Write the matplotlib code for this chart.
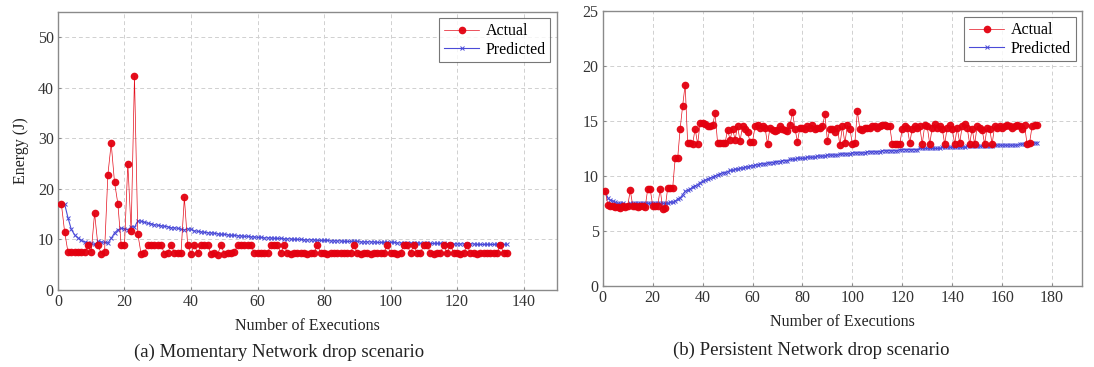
import matplotlib
matplotlib.use("Agg")
import matplotlib.pyplot as plt

plt.rcParams['font.family'] = ['Liberation Serif', 'DejaVu Serif']

# ---------------- Data: (a) Momentary network drop ----------------
a_actual = [17.1, 11.5, 7.5, 7.5, 7.5, 7.5, 7.5, 7.5, 8.8, 7.5,
            15.2, 8.9, 7.2, 7.5, 22.8, 29.0, 21.3, 17.1, 8.9, 8.9,
            25.0, 11.6, 42.4, 11.1, 7.1, 7.4, 8.8, 8.8, 8.8, 8.9,
            8.9, 7.2, 7.4, 8.9, 7.4, 7.4, 7.4, 18.3, 8.9, 7.2,
            8.9, 7.3, 8.8, 8.9, 8.9, 7.2, 7.4, 7.0, 8.9, 7.2,
            7.3, 7.3, 7.5, 8.8, 8.9, 8.9, 8.9, 8.9, 7.4, 7.3,
            7.3, 7.3, 7.3, 8.9, 8.9, 8.9, 7.3, 8.9, 7.3, 7.2,
            7.3, 7.3, 7.4, 7.3, 7.2, 7.3, 7.3, 8.9, 7.3, 7.3,
            7.2, 7.3, 7.3, 7.4, 7.3, 7.3, 7.3, 7.4, 8.9, 7.3,
            7.2, 7.3, 7.3, 7.2, 7.3, 7.3, 7.4, 7.3, 8.9, 7.3,
            7.3, 7.2, 7.3, 8.9, 8.9, 7.3, 8.9, 7.3, 7.3, 8.9,
            8.9, 7.3, 7.2, 7.3, 7.3, 8.9, 7.3, 8.9, 7.3, 7.3,
            7.2, 7.3, 8.9, 7.3, 7.3, 7.2, 7.3, 7.3, 7.3, 7.4,
            7.3, 7.3, 8.9, 7.3, 7.3]
a_pred = [17.0, 17.0, 14.3, 12.0, 10.9, 10.3, 9.8, 9.5, 9.3, 9.2,
          9.0, 9.6, 9.5, 9.4, 9.3, 10.2, 11.3, 11.9, 12.2, 12.1,
          11.9, 12.5, 12.4, 13.7, 13.6, 13.4, 13.2, 13.1, 12.9, 12.8,
          12.7, 12.6, 12.5, 12.3, 12.3, 12.2, 12.0, 11.9, 12.1, 12.0,
          11.7, 11.6, 11.5, 11.4, 11.3, 11.3, 11.2, 11.1, 11.0, 11.0,
          10.9, 10.8, 10.8, 10.7, 10.7, 10.6, 10.6, 10.5, 10.5, 10.4,
          10.4, 10.3, 10.3, 10.3, 10.2, 10.2, 10.2, 10.1, 10.1, 10.1,
          10.0, 10.0, 10.0, 9.9, 9.9, 9.9, 9.9, 9.8, 9.8, 9.8,
          9.8, 9.7, 9.7, 9.7, 9.7, 9.6, 9.6, 9.6, 9.6, 9.6,
          9.5, 9.5, 9.5, 9.5, 9.5, 9.4, 9.4, 9.4, 9.4, 9.4,
          9.4, 9.3, 9.3, 9.3, 9.3, 9.3, 9.3, 9.3, 9.2, 9.2,
          9.2, 9.2, 9.2, 9.2, 9.2, 9.2, 9.1, 9.1, 9.1, 9.1,
          9.1, 9.1, 9.1, 9.1, 9.1, 9.0, 9.0, 9.0, 9.0, 9.0,
          9.0, 9.0, 9.0, 9.0, 9.0]

# ---------------- Data: (b) Persistent network drop ----------------
b_actual = [8.6, 7.4, 7.3, 7.3, 7.2, 7.2, 7.1, 7.3, 7.2, 7.3,
            8.7, 7.3, 7.3, 7.2, 7.3, 7.3, 7.2, 8.8, 8.8, 7.3,
            7.3, 7.3, 8.8, 7.0, 7.1, 8.9, 8.9, 8.9, 11.6, 11.6,
            14.3, 16.4, 18.3, 13.0, 13.0, 12.9, 14.3, 12.9, 14.8, 14.8,
            14.7, 14.5, 14.5, 14.6, 15.7, 13.0, 13.0, 13.0, 13.0, 14.2,
            13.3, 14.3, 13.3, 14.5, 13.2, 14.5, 14.3, 14.0, 13.1, 13.1,
            14.5, 14.6, 14.4, 14.5, 14.4, 12.9, 14.4, 14.2, 14.1, 14.2,
            14.5, 14.3, 14.2, 14.1, 14.6, 15.8, 14.3, 13.1, 14.4, 14.4,
            14.3, 14.5, 14.4, 14.6, 14.3, 14.4, 14.4, 14.5, 15.6, 13.2,
            14.3, 14.3, 14.0, 14.4, 12.8, 14.5, 13.0, 14.6, 14.3, 12.9,
            13.0, 15.9, 14.3, 14.2, 14.4, 14.4, 14.4, 14.5, 14.5, 14.4,
            14.5, 14.6, 14.6, 14.5, 14.5, 12.9, 12.9, 12.9, 12.9, 14.3,
            14.5, 14.4, 13.0, 14.3, 14.5, 14.4, 14.5, 12.9, 14.6, 14.5,
            12.9, 14.4, 14.7, 14.4, 14.5, 14.3, 12.9, 14.4, 14.6, 14.3,
            12.9, 14.4, 13.0, 14.5, 14.7, 14.4, 12.9, 14.3, 12.9, 14.5,
            14.4, 14.2, 12.9, 14.4, 14.3, 12.9, 14.5, 14.4, 14.5, 14.4,
            14.5, 14.6, 14.5, 14.4, 14.5, 14.6, 14.5, 14.3, 14.6, 12.9,
            13.0, 14.5, 14.6, 14.6]
b_pred = [8.6, 8.0, 7.8, 7.7, 7.6, 7.5, 7.5, 7.5, 7.4, 7.4,
          7.5, 7.5, 7.5, 7.5, 7.5, 7.5, 7.5, 7.5, 7.5, 7.5,
          7.5, 7.5, 7.5, 7.5, 7.5, 7.5, 7.6, 7.6, 7.7, 7.9,
          8.0, 8.3, 8.6, 8.7, 8.8, 9.0, 9.1, 9.2, 9.4, 9.5,
          9.6, 9.7, 9.8, 9.9, 10.0, 10.1, 10.2, 10.3, 10.3, 10.4,
          10.5, 10.5, 10.6, 10.6, 10.7, 10.7, 10.8, 10.8, 10.9, 10.9,
          11.0, 11.0, 11.1, 11.1, 11.1, 11.2, 11.2, 11.2, 11.3, 11.3,
          11.3, 11.4, 11.4, 11.4, 11.5, 11.5, 11.5, 11.6, 11.6, 11.6,
          11.6, 11.7, 11.7, 11.7, 11.7, 11.8, 11.8, 11.8, 11.8, 11.9,
          11.9, 11.9, 11.9, 11.9, 12.0, 12.0, 12.0, 12.0, 12.0, 12.1,
          12.1, 12.1, 12.1, 12.1, 12.1, 12.2, 12.2, 12.2, 12.2, 12.2,
          12.2, 12.3, 12.3, 12.3, 12.3, 12.3, 12.3, 12.3, 12.4, 12.4,
          12.4, 12.4, 12.4, 12.4, 12.4, 12.4, 12.5, 12.5, 12.5, 12.5,
          12.5, 12.5, 12.5, 12.5, 12.5, 12.6, 12.6, 12.6, 12.6, 12.6,
          12.6, 12.6, 12.6, 12.6, 12.6, 12.7, 12.7, 12.7, 12.7, 12.7,
          12.7, 12.7, 12.7, 12.7, 12.7, 12.7, 12.8, 12.8, 12.8, 12.8,
          12.8, 12.8, 12.8, 12.8, 12.8, 12.8, 12.9, 12.9, 12.9, 12.9,
          13.0, 13.0, 13.0, 13.0]

a_xticks = [0, 20, 40, 60, 80, 100, 120, 140]
a_yticks = [0, 10, 20, 30, 40, 50]
b_xticks = [0, 20, 40, 60, 80, 100, 120, 140, 160, 180]
b_yticks = [0, 5, 10, 15, 20, 25]

RED = '#e3000f'
BLUE = '#4b4bd8'

fig = plt.figure(figsize=(10.94, 3.67), dpi=100)
ax1 = fig.add_axes([0.053, 0.210, 0.456, 0.757])
ax2 = fig.add_axes([0.551, 0.221, 0.438, 0.749])


def style(ax, xlim, ylim, xt, yt):
    ax.set_xlim(*xlim)
    ax.set_ylim(*ylim)
    ax.set_xticks(xt)
    ax.set_yticks(yt)
    ax.grid(True, color='#d0d0d0', linestyle=(0, (4, 3)), linewidth=0.7)
    ax.set_axisbelow(True)
    for s in ax.spines.values():
        s.set_color('#8a8a8a')
        s.set_linewidth(1.0)
    ax.tick_params(direction='in', length=2.5, color='#8a8a8a', labelsize=11.5,
                   labelcolor='#333333', pad=3)


def draw(ax, actual, pred):
    xa = list(range(1, len(actual) + 1))
    xp = list(range(1, len(pred) + 1))
    ax.plot(xp, pred, color=BLUE, linewidth=0.8, marker='x', markersize=3,
            markeredgewidth=0.7, label='Predicted', zorder=3)
    ax.plot(xa, actual, color=RED, linewidth=0.5, marker='o', markersize=5.5,
            markeredgewidth=0, alpha=0.95, label='Actual', zorder=4)
    h, l = ax.get_legend_handles_labels()
    leg = ax.legend(h[::-1], l[::-1], loc='upper right', fontsize=11.5,
                    frameon=True, fancybox=False, borderaxespad=0.4,
                    handlelength=2.2, handletextpad=0.4, borderpad=0.3,
                    labelspacing=0.15)
    leg.get_frame().set_edgecolor('#555555')
    leg.get_frame().set_linewidth(0.8)


draw(ax1, a_actual, a_pred)
style(ax1, (0, 150), (0, 55), a_xticks, a_yticks)
ax1.set_ylabel('Energy (J)', fontsize=11.5, color='#222222', labelpad=6)
ax1.set_xlabel('Number of Executions', fontsize=11.5, color='#222222', labelpad=6)

draw(ax2, b_actual, b_pred)
style(ax2, (0, 192), (0, 25), b_xticks, b_yticks)
ax2.set_xlabel('Number of Executions', fontsize=11.5, color='#222222', labelpad=6)

fig.text(0.255, 0.04, '(a) Momentary Network drop scenario', ha='center',
         va='center', fontsize=13.5, color='#222222')
fig.text(0.742, 0.045, '(b) Persistent Network drop scenario', ha='center',
         va='center', fontsize=13.5, color='#222222')

fig.savefig('out.png', dpi=100)
